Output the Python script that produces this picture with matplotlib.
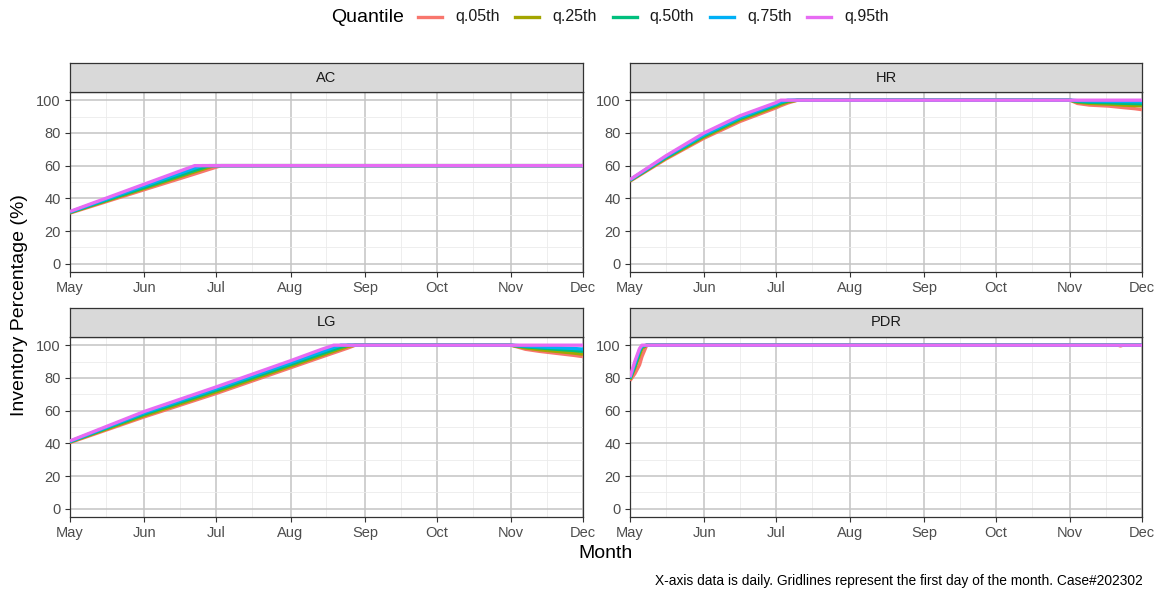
import numpy as np
import pandas as pd
import matplotlib.pyplot as plt
import matplotlib.dates as mdates
from matplotlib.lines import Line2D

plt.rcParams['font.family'] = ['Liberation Sans', 'DejaVu Sans']

# Quantile labels and their colours (ggplot hue palette)
QUANTILES = ['q.05th', 'q.25th', 'q.50th', 'q.75th', 'q.95th']
COLORS = ['#F8766D', '#A3A500', '#00BF7D', '#00B0F6', '#E76BF3']
START = pd.Timestamp('2023-05-01')
END = pd.Timestamp('2023-12-01')

# AC: days since May 1 and inventory % per quantile
ac_day = [0, 31, 52, 55, 58, 60, 63, 214]
ac_q05 = [31.0, 45.3, 54.9, 56.3, 57.7, 58.6, 60.0, 60.0]
ac_q25 = [31.3, 46.1, 56.2, 57.6, 59.0, 60.0, 60.0, 60.0]
ac_q50 = [31.5, 46.7, 57.1, 58.5, 60.0, 60.0, 60.0, 60.0]
ac_q75 = [31.7, 47.7, 58.5, 60.0, 60.0, 60.0, 60.0, 60.0]
ac_q95 = [32.0, 48.7, 60.0, 60.0, 60.0, 60.0, 60.0, 60.0]

# HR
hr_day = [0, 15, 31, 46, 61, 63, 66, 70, 184, 187, 192, 200, 206, 211, 214]
hr_q05 = [50.5, 64.0, 76.8, 87.0, 95.3, 96.6, 98.3, 100, 100, 98.0, 97.0, 96.4, 95.5, 94.8, 94.2]
hr_q25 = [50.8, 64.5, 77.6, 88.0, 96.2, 97.5, 99.0, 100, 100, 98.8, 98.0, 97.6, 97.0, 96.7, 96.5]
hr_q50 = [51.0, 65.0, 78.3, 88.8, 97.0, 98.3, 99.6, 100, 100, 99.2, 98.7, 98.4, 98.1, 97.9, 97.8]
hr_q75 = [51.3, 65.5, 79.0, 89.5, 97.8, 99.0, 100, 100, 100, 99.7, 99.5, 99.3, 99.2, 99.1, 99.0]
hr_q95 = [51.5, 66.0, 80.0, 90.5, 98.5, 100, 100, 100, 100, 100, 100, 100, 100, 100, 100]

# LG
lg_day = [0, 31, 61, 92, 105, 110, 113, 116, 119, 184, 190, 196, 203, 210, 214]
lg_q05 = [40.5, 56.2, 70.5, 86.2, 92.8, 95.3, 96.8, 98.3, 100, 100, 97.5, 96.2, 95.0, 93.8, 93.0]
lg_q25 = [40.8, 57.0, 71.5, 87.2, 93.8, 96.3, 97.8, 99.3, 100, 100, 98.3, 97.2, 96.2, 95.2, 94.5]
lg_q50 = [41.0, 57.9, 72.5, 88.2, 94.8, 97.3, 98.8, 100, 100, 100, 99.0, 98.3, 97.5, 96.8, 96.2]
lg_q75 = [41.2, 58.7, 73.5, 89.3, 96.0, 98.6, 100, 100, 100, 100, 99.5, 99.0, 98.5, 98.0, 97.6]
lg_q95 = [41.5, 59.5, 74.5, 90.5, 97.5, 100, 100, 100, 100, 100, 100, 100, 100, 100, 100]

# PDR
pdr_day = [0, 2, 4, 5, 7, 204, 205, 206, 214]
pdr_q05 = [78.3, 82.5, 88.0, 93.0, 100, 100, 99.5, 100, 100]
pdr_q25 = [79.0, 86.0, 94.0, 98.0, 100, 100, 100, 100, 100]
pdr_q50 = [79.5, 87.0, 96.0, 99.0, 100, 100, 100, 100, 100]
pdr_q75 = [80.0, 88.5, 97.0, 99.5, 100, 100, 100, 100, 100]
pdr_q95 = [80.5, 90.0, 98.0, 100, 100, 100, 100, 100, 100]

sites = {
    'AC': (ac_day, [ac_q05, ac_q25, ac_q50, ac_q75, ac_q95]),
    'HR': (hr_day, [hr_q05, hr_q25, hr_q50, hr_q75, hr_q95]),
    'LG': (lg_day, [lg_q05, lg_q25, lg_q50, lg_q75, lg_q95]),
    'PDR': (pdr_day, [pdr_q05, pdr_q25, pdr_q50, pdr_q75, pdr_q95]),
}

W, H = 1159, 590
fig = plt.figure(figsize=(W / 100, H / 100), dpi=100)

# panel boxes in pixels: left, top, right, bottom (strip sits above)
boxes = {
    'AC': (70, 92, 583, 272),
    'HR': (630, 92, 1142, 272),
    'LG': (70, 337, 583, 517),
    'PDR': (630, 337, 1142, 517),
}
STRIP_H = 29


def px_axes(l, t, r, b):
    return fig.add_axes([l / W, 1 - b / H, (r - l) / W, (b - t) / H])


for name, (day, series) in sites.items():
    l, t, r, b = boxes[name]
    ax = px_axes(l, t, r, b)
    dates = START + pd.to_timedelta(day, unit='D')
    for vals, col in zip(series, COLORS):
        ax.plot(dates, vals, color=col, lw=2.4, solid_capstyle='butt', zorder=3)

    ax.set_xlim(START, END)
    ax.set_ylim(-5, 105)
    ax.set_yticks(np.arange(0, 101, 20))
    ax.set_yticks(np.arange(10, 100, 20), minor=True)
    ax.xaxis.set_major_locator(mdates.MonthLocator())
    ax.xaxis.set_major_formatter(mdates.DateFormatter('%b'))
    ax.xaxis.set_minor_locator(mdates.MonthLocator(bymonthday=16))
    ax.grid(which='major', color='#C4C4C4', lw=1.1, zorder=1)
    ax.grid(which='minor', color='#EBEBEB', lw=0.6, zorder=0)
    ax.set_axisbelow(True)
    ax.tick_params(which='major', length=3.5, width=0.8, color='#333333',
                   labelsize=10.5, labelcolor='#4D4D4D', pad=3)
    ax.tick_params(which='minor', length=0)
    for sp in ax.spines.values():
        sp.set_color('#333333')
        sp.set_linewidth(0.9)

    # facet strip
    sx = px_axes(l, t - STRIP_H, r, t)
    sx.set_facecolor('#D9D9D9')
    sx.set_xticks([])
    sx.set_yticks([])
    for sp in sx.spines.values():
        sp.set_color('#333333')
        sp.set_linewidth(0.9)
    sx.text(0.5, 0.5, name, ha='center', va='center', fontsize=10.5,
            color='#1A1A1A', transform=sx.transAxes)

# axis titles and caption
fig.text(20 / W, 1 - 305 / H, 'Inventory Percentage (%)', rotation=90,
         ha='center', va='center', fontsize=14)
fig.text(606 / W, 1 - 553 / H, 'Month', ha='center', va='center', fontsize=14)
fig.text(1143 / W, 1 - 581 / H,
         'X-axis data is daily. Gridlines represent the first day of the month. Case#202302',
         ha='right', va='center', fontsize=9.9)

# legend across the top
ly = 1 - 17 / H
fig.text(404 / W, ly, 'Quantile', ha='right', va='center', fontsize=14)
for i, (lab, col) in enumerate(zip(QUANTILES, COLORS)):
    x0 = 418 + 97.3 * i
    fig.add_artist(Line2D([x0 / W, (x0 + 24) / W], [ly, ly], color=col, lw=2.4,
                          transform=fig.transFigure))
    fig.text((x0 + 37) / W, ly, lab, ha='left', va='center', fontsize=11.5,
             color='#1A1A1A')

fig.savefig('out.png', dpi=100)
